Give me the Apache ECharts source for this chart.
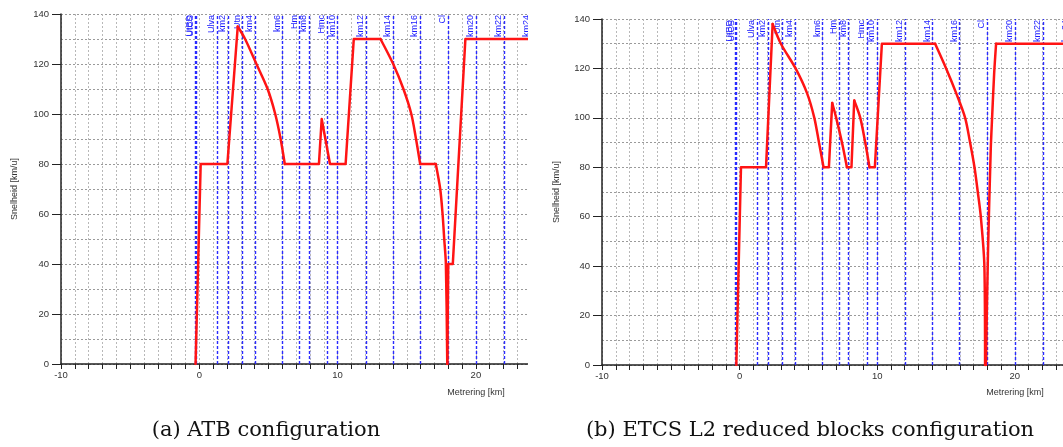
<!DOCTYPE html>
<html><head><meta charset="utf-8">
<script src="https://cdn.jsdelivr.net/npm/echarts@6/dist/echarts.min.js"></script>
<style>
html,body{margin:0;padding:0;background:#fff;}
#wrap{position:relative;width:1063px;height:447px;overflow:hidden;background:#fff;}
.clip{position:absolute;top:0;height:447px;overflow:hidden;}
.chart{width:700px;height:447px;}
</style></head><body>
<div id="wrap">
<div class="clip" style="left:0;width:528px"><div id="chartA" class="chart"></div></div>
<div class="clip" style="left:530px;width:533px"><div id="chartB" class="chart"></div></div>
</div>
<script>
// Track markers (km) and their labels
const markerKm    = [-0.3, -0.22, 1.3, 2.08, 3.13, 4.05, 6.03, 7.25, 7.92, 9.27, 10.0, 12.05, 14.03, 15.99, 17.97, 20.02, 22.05, 24.05];
const markerNames = ['UtBD', 'UtCS', 'Ulva', 'km2', 'Utn', 'km4', 'km6', 'Hm', 'km8', 'Hmc', 'km10', 'km12', 'km14', 'km16', 'Cl', 'km20', 'km22', 'km24'];

// (a) ATB configuration: speed profile
const atbKm    = [-0.27, 0.1, 2.03, 2.78, 3.31, 4.13, 4.94, 5.49, 5.88, 6.18, 8.65, 8.85, 9.45, 10.58, 11.17, 13.1, 14.02, 14.76, 15.33, 15.67, 15.97, 17.1, 17.42, 17.59, 17.71, 17.83, 17.93, 17.98, 18.0, 18.33, 19.24, 30];
const atbSpeed = [0, 80, 80, 135, 130, 120, 110, 100, 90, 80, 80, 98, 80, 80, 130, 130, 120, 110, 100, 90, 80, 80, 70, 60, 50, 40, 0, 0, 40, 40, 130, 130];
// index ranges of the profile that are braking curves (drawn smooth)
const atbCurves = [[3, 9], [15, 20], [21, 26]];

// (b) ETCS L2 reduced blocks configuration: speed profile
const etcsKm    = [-0.24, 0.1, 1.92, 2.4, 3.0, 4.07, 4.9, 5.43, 5.77, 6.1, 6.49, 6.73, 7.02, 7.44, 7.8, 8.13, 8.33, 8.77, 9.13, 9.44, 9.83, 10.34, 14.21, 15.01, 15.74, 16.39, 16.75, 17.07, 17.31, 17.53, 17.79, 17.84, 17.9, 18.05, 18.25, 18.35, 18.5, 18.64, 30];
const etcsSpeed = [0, 80, 80, 138, 130, 120, 110, 100, 90, 80, 80, 106, 100, 90, 80, 80, 107, 100, 90, 80, 80, 130, 130, 120, 110, 100, 90, 80, 70, 60, 40, 0, 0, 45, 87, 100, 118, 130, 130];
const etcsCurves = [[3, 9], [11, 14], [16, 19], [22, 31], [32, 37]];

const xTitle = 'Metrering [km]';
const yTitle = 'Snelheid [km/u]';
const captionA = '(a) ATB configuration';
const captionB = '(b) ETCS L2 reduced blocks configuration';

const SANS = '"Liberation Sans", Arial, sans-serif';

function profileSeries(km, speed, curves) {
  // split the profile into straight pieces and smooth braking-curve pieces
  const bounds = [];
  let cur = 0;
  curves.forEach(([a, b]) => {
    if (a > cur) bounds.push([cur, a, false]);
    bounds.push([a, b, true]);
    cur = b;
  });
  if (cur < km.length - 1) bounds.push([cur, km.length - 1, false]);
  return bounds.map(([a, b, sm]) => ({
    type: 'line', z: 5, silent: true, clip: true,
    data: km.slice(a, b + 1).map((k, i) => [k, speed[a + i]]),
    showSymbol: false, symbol: 'none',
    smooth: sm ? 0.3 : false,
    lineStyle: {color: '#ff1414', width: 2.5, cap: 'round', join: 'round'}
  }));
}

function buildOption(o) {
  const gridV = {color: '#b8b8b8', type: [2, 2], width: 1};
  const gridH = {color: '#9a9a9a', type: [2, 2], width: 1};
  return {
    animation: false,
    backgroundColor: '#fff',
    grid: {left: o.left, top: o.top, width: o.width, height: o.height, containLabel: false},
    xAxis: {
      type: 'value', min: -10, max: 30, interval: 10,
      axisLine: {onZero: false, lineStyle: {color: '#222', width: 1.5}},
      axisTick: {show: true, length: 5, lineStyle: {color: '#222', width: 1}},
      minorTick: {show: true, splitNumber: 10, length: 5, lineStyle: {color: '#222', width: 1}},
      axisLabel: {fontSize: 9.5, color: '#333', margin: 6, fontFamily: SANS},
      splitLine: {show: true, lineStyle: gridV},
      minorSplitLine: {show: true, lineStyle: gridV}
    },
    yAxis: {
      type: 'value', min: 0, max: 140, interval: 20,
      name: yTitle, nameLocation: 'middle', nameGap: o.nameGap,
      nameTextStyle: {fontSize: 9, color: '#333', fontFamily: SANS},
      axisLine: {show: true, onZero: false, lineStyle: {color: '#222', width: 1.5}},
      axisTick: {show: true, length: 9, lineStyle: {color: '#222', width: 1}},
      minorTick: {show: false, splitNumber: 2},
      axisLabel: {fontSize: 9.5, color: '#333', margin: 12, fontFamily: SANS},
      splitLine: {show: true, lineStyle: gridH},
      minorSplitLine: {show: true, lineStyle: gridH}
    },
    series: [
      {
        type: 'line', data: [], z: 3, silent: true,
        markLine: {
          silent: true, animation: false, symbol: ['none', 'none'],
          lineStyle: {color: '#2a2aff', type: [3, 2], width: 1.4},
          label: {show: true, position: 'insideEndTop', formatter: '{b}', color: '#1a1aff', fontSize: 9, fontFamily: SANS, distance: 1},
          emphasis: {disabled: true},
          data: markerKm.map((k, i) => ({xAxis: k, name: markerNames[i]}))
        }
      }
    ].concat(profileSeries(o.km, o.speed, o.curves)),
    graphic: [
      {type: 'text', x: o.xTitleX, y: 393, silent: true,
       style: {text: xTitle, fontSize: 9, fontFamily: SANS, fill: '#333', align: 'center', verticalAlign: 'middle'}},
      {type: 'text', x: o.capX, y: 431, silent: true,
       style: {text: o.caption, fontSize: 21, fontFamily: '"DejaVu Serif", serif', fill: '#111', align: 'center', verticalAlign: 'middle'}}
    ]
  };
}

const chartA = echarts.init(document.getElementById('chartA'), null, {renderer: 'canvas'});
chartA.setOption(buildOption({
  left: 61, top: 14, width: 553.2, height: 350, nameGap: 42,
  km: atbKm, speed: atbSpeed, curves: atbCurves, xTitleX: 476, capX: 266, caption: captionA
}));

const chartB = echarts.init(document.getElementById('chartB'), null, {renderer: 'canvas'});
chartB.setOption(buildOption({
  left: 72, top: 19, width: 550.4, height: 346, nameGap: 41,
  km: etcsKm, speed: etcsSpeed, curves: etcsCurves, xTitleX: 485, capX: 280, caption: captionB
}));
</script>
</body></html>
